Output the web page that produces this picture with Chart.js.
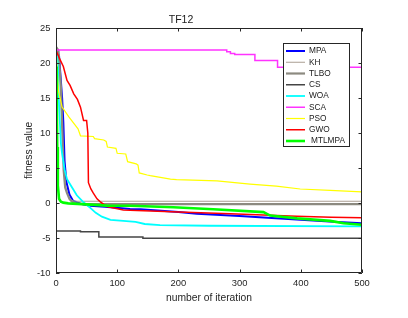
<!DOCTYPE html>
<html>
<head>
<meta charset="utf-8">
<script src="https://cdn.jsdelivr.net/npm/chart.js@4.4.1/dist/chart.umd.min.js"></script>
<style>
  body { margin: 0; background: #fff; }
  #chart { display: block; }
</style>
</head>
<body>
<canvas id="chart" width="408" height="318"></canvas>
<script>
const names = ["MPA", "KH", "TLBO", "CS", "WOA", "SCA", "PSO", "GWO", "MTLMPA"];
const colors = ["#0000ff", "#ab9f92", "#8c8a80", "#454545", "#00ffff", "#ff33ff", "#ffff00", "#ff0000", "#00ff00"];
const widths = [2, 1, 2.2, 1.5, 1.8, 1.5, 1.2, 1.5, 2.6];

const xTicks = [0, 100, 200, 300, 400, 500];
const yTicks = [-10, -5, 0, 5, 10, 15, 20, 25];

const mpaIter = [0, 5, 10, 12, 14, 17, 22, 28, 40, 56, 80, 121, 138, 200, 230, 300, 339, 420, 460, 500];
const mpaFit = [22, 21, 15, 11.5, 6, 3, 1.2, 0.3, -0.1, -0.4, -0.55, -0.84, -0.9, -1.3, -1.55, -1.85, -2.07, -2.5, -2.7, -2.9];

const khIter = [0, 2, 5, 8, 11, 14, 17, 20, 24, 28, 35, 500];
const khFit = [22.3, 22, 20, 15, 8, 3.5, 1.8, 1.0, 0.5, 0.3, 0.25, 0.25];

const tlboIter = [0, 4, 8, 12.5, 15, 18, 22, 26, 32, 45, 500];
const tlboFit = [22.3, 21.8, 16.6, 4.7, 2.2, 1.4, 0.6, 0.2, -0.05, -0.15, -0.15];

const csIter = [0, 40, 70, 142, 500];
const csFit = [-4.0, -4.1, -4.85, -5.05, -5.05];

const woaIter = [0, 3, 5, 8, 10, 14, 18, 25, 34, 45, 56, 65, 75, 89, 110, 130, 145, 170, 250, 500];
const woaFit = [22, 20, 14, 8.5, 7, 4.8, 3.4, 2.4, 1.1, 0.1, -0.7, -1.4, -1.95, -2.4, -2.55, -2.7, -3.0, -3.15, -3.25, -3.35];

const scaIter = [0, 279, 285, 292, 325, 362, 500];
const scaFit = [21.85, 21.6, 21.35, 21.2, 20.35, 19.4, 19.4];

const psoIter = [0, 2, 4, 10, 21, 36, 40, 61, 63, 78, 82, 84, 98, 100, 114, 117, 131, 134, 136, 149, 154, 187, 197, 263, 317, 360, 399, 448, 500];
const psoFit = [22, 19, 16, 13.7, 12.3, 10.6, 9.6, 9.5, 9.2, 9.0, 8.8, 8.0, 7.8, 7.1, 7.0, 5.9, 5.6, 5.4, 4.3, 4.0, 3.9, 3.4, 3.35, 3.15, 2.7, 2.4, 2.0, 1.8, 1.6];

const gwoIter = [0, 7, 12, 18, 23, 29, 35, 40, 45, 50, 52, 53, 57, 61, 67, 72, 83, 110, 121, 200, 285, 393, 450, 500];
const gwoFit = [21.8, 20.4, 19.5, 17.5, 16.8, 15.6, 14.8, 13.7, 11.8, 11.8, 10, 2.9, 2.0, 1.4, 0.6, 0.2, -0.5, -1.0, -1.05, -1.3, -1.55, -1.9, -2.05, -2.1];

const mtlIter = [0, 1, 2, 3, 5, 8, 12, 20, 50, 83, 121, 192, 257, 339, 350, 394, 448, 470, 500];
const mtlFit = [19.5, 16, 8, 2.5, 0.6, 0.2, 0.05, -0.05, -0.2, -0.37, -0.4, -0.6, -0.9, -1.3, -1.8, -2.2, -2.55, -2.9, -3.1];

const iters = [mpaIter, khIter, tlboIter, csIter, woaIter, scaIter, psoIter, gwoIter, mtlIter];
const fits = [mpaFit, khFit, tlboFit, csFit, woaFit, scaFit, psoFit, gwoFit, mtlFit];
// CS and SCA hold their value until the next iteration listed
const stepped = [false, false, false, "before", false, "before", false, false, false];

const FONT = "'Liberation Sans', Arial, sans-serif";

function toPoints(xs, ys) {
  return xs.map((x, i) => ({ x: x, y: ys[i] }));
}

const datasets = names.map((name, i) => ({
  label: name,
  data: toPoints(iters[i], fits[i]),
  borderColor: colors[i],
  backgroundColor: colors[i],
  borderWidth: widths[i],
  pointRadius: 0,
  tension: 0,
  stepped: stepped[i],
  order: names.length - i
}));

// MATLAB style box with inward ticks
const boxPlugin = {
  id: "box",
  afterDatasetsDraw(chart) {
    const { ctx, chartArea: a, scales } = chart;
    ctx.save();
    ctx.strokeStyle = "#262626";
    ctx.lineWidth = 1;
    ctx.beginPath();
    ctx.rect(a.left + 0.5, a.top + 0.5, a.right - a.left - 1, a.bottom - a.top - 1);
    xTicks.forEach(v => {
      const x = Math.round(scales.x.getPixelForValue(v)) + 0.5;
      ctx.moveTo(x, a.bottom); ctx.lineTo(x, a.bottom - 3.5);
      ctx.moveTo(x, a.top); ctx.lineTo(x, a.top + 3.5);
    });
    yTicks.forEach(v => {
      const y = Math.round(scales.y.getPixelForValue(v)) + 0.5;
      ctx.moveTo(a.left, y); ctx.lineTo(a.left + 3.5, y);
      ctx.moveTo(a.right, y); ctx.lineTo(a.right - 3.5, y);
    });
    ctx.stroke();
    ctx.restore();
  }
};

// legend inside the axes, top right
const legendPlugin = {
  id: "insideLegend",
  afterDraw(chart) {
    const { ctx, chartArea: a } = chart;
    const x0 = a.right - 79, y0 = a.top + 15, w = 66, h = 103;
    ctx.save();
    ctx.fillStyle = "#fff";
    ctx.fillRect(x0, y0, w, h);
    ctx.strokeStyle = "#262626";
    ctx.lineWidth = 1;
    ctx.strokeRect(x0 + 0.5, y0 + 0.5, w, h);
    ctx.font = "8.3px " + FONT;
    ctx.textBaseline = "middle";
    chart.data.datasets.forEach((ds, i) => {
      const y = y0 + 8 + i * 11.25;
      ctx.strokeStyle = ds.borderColor;
      ctx.lineWidth = ds.borderWidth;
      ctx.beginPath();
      ctx.moveTo(x0 + 3, y);
      ctx.lineTo(x0 + 22, y);
      ctx.stroke();
      ctx.fillStyle = "#1a1a1a";
      ctx.fillText(ds.label, x0 + (i === 8 ? 28 : 26), y);
    });
    ctx.restore();
  }
};

new Chart(document.getElementById("chart"), {
  type: "line",
  data: { datasets: datasets },
  plugins: [boxPlugin, legendPlugin],
  options: {
    responsive: false,
    animation: false,
    layout: { padding: { left: 0, right: 46, top: 0, bottom: 10 } },
    plugins: {
      legend: { display: false },
      tooltip: { enabled: false },
      title: {
        display: true,
        text: "TF12",
        color: "#1a1a1a",
        font: { family: FONT, size: 10.5, weight: "normal" },
        padding: { top: 13.7, bottom: 1.7 }
      }
    },
    scales: {
      x: {
        type: "linear",
        min: 0,
        max: 500,
        afterBuildTicks: s => { s.ticks = xTicks.map(v => ({ value: v })); },
        afterFit: s => { s.height = 35; },
        grid: { display: false, drawTicks: false },
        border: { display: false },
        ticks: { color: "#262626", font: { family: FONT, size: 9.4 }, padding: 5, maxRotation: 0 },
        title: {
          display: true,
          text: "number of iteration",
          color: "#262626",
          font: { family: FONT, size: 10.3 },
          padding: { top: 0, bottom: 3.8 }
        }
      },
      y: {
        min: -10,
        max: 25,
        afterBuildTicks: s => { s.ticks = yTicks.map(v => ({ value: v })); },
        afterFit: s => { s.width = 56; },
        grid: { display: false, drawTicks: false },
        border: { display: false },
        ticks: { color: "#262626", font: { family: FONT, size: 9.4 }, padding: 5.5 },
        title: {
          display: true,
          text: "fitness value",
          color: "#262626",
          font: { family: FONT, size: 10.3 },
          padding: { top: 22.8, bottom: 0 }
        }
      }
    }
  }
});
</script>
</body>
</html>
